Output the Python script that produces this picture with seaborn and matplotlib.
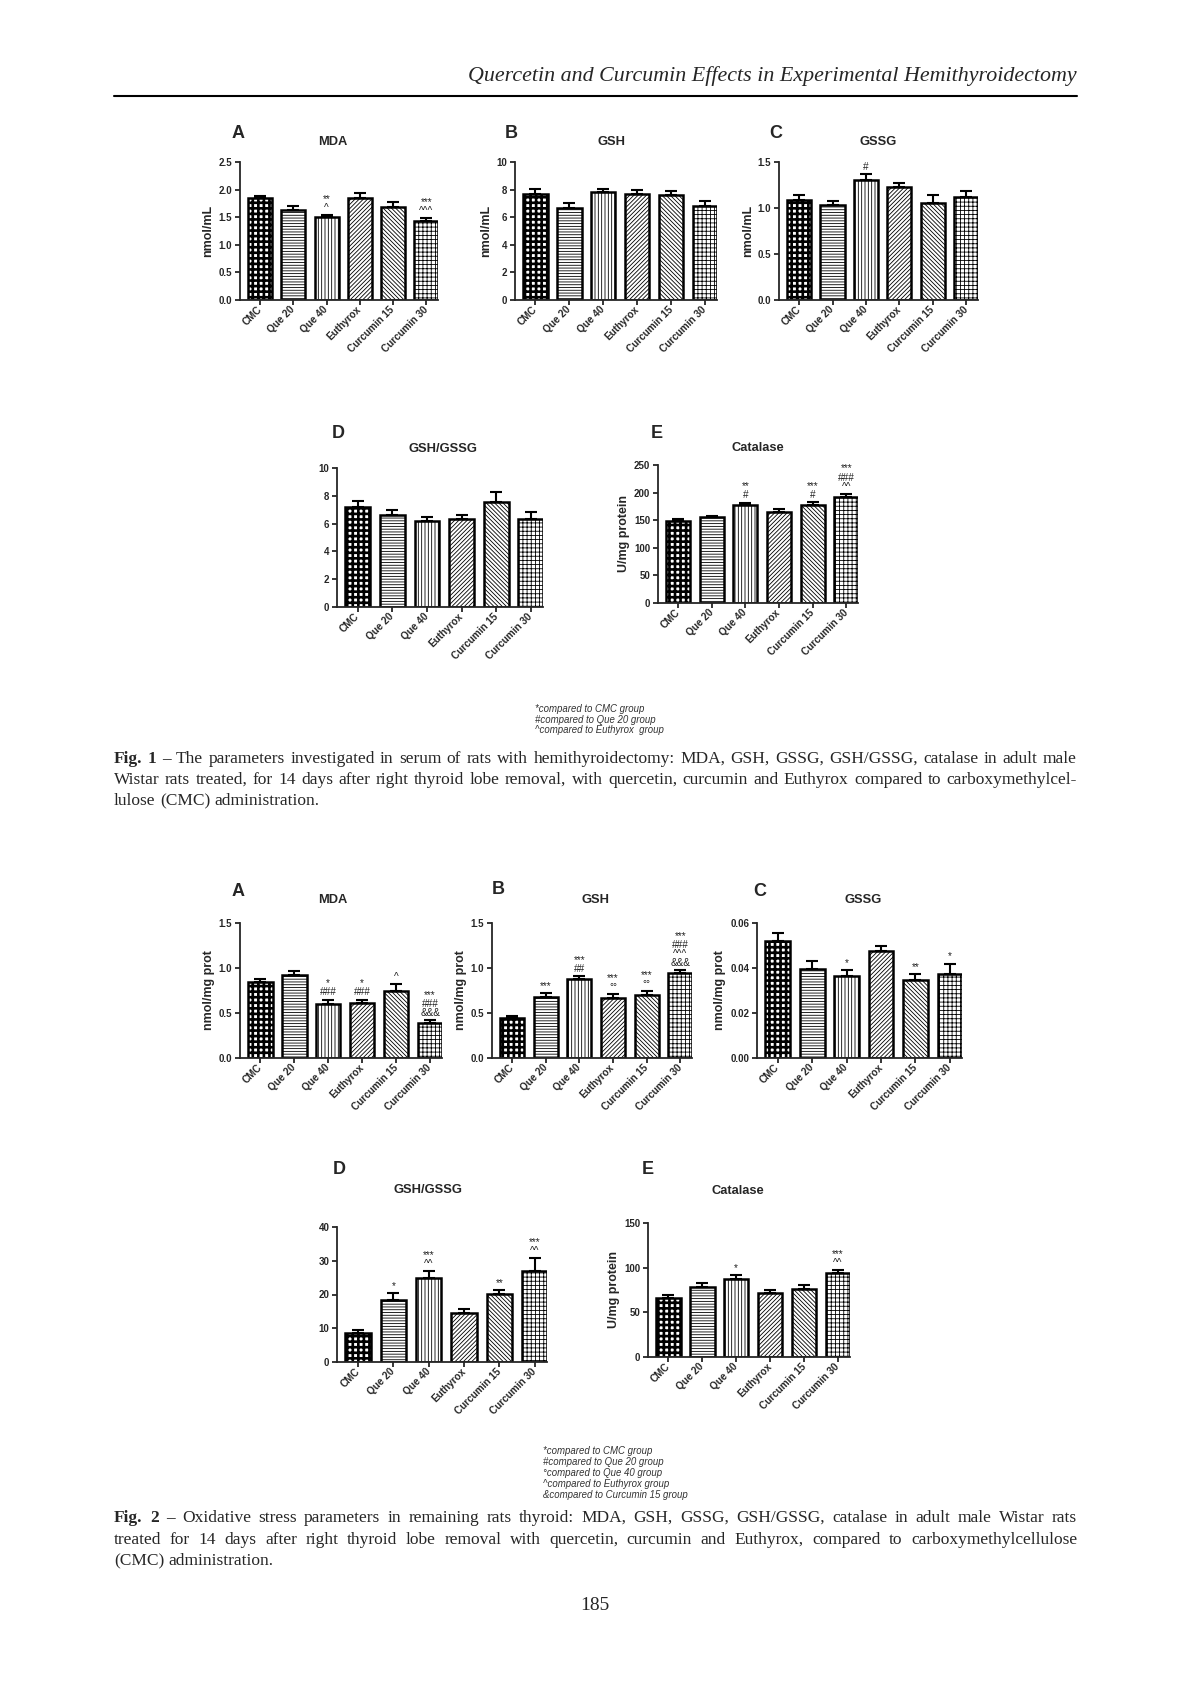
import numpy as np
import pandas as pd
import matplotlib
matplotlib.use('Agg')
import matplotlib.pyplot as plt
import seaborn as sns
from matplotlib.lines import Line2D

# groups (same in every panel)
groups = ['CMC', 'Que 20', 'Que 40', 'Euthyrox', 'Curcumin 15', 'Curcumin 30']

# Fig. 1 - serum
f1_mda = [1.84, 1.63, 1.51, 1.84, 1.68, 1.43]
f1_mda_err = [0.05, 0.07, 0.03, 0.10, 0.10, 0.05]
f1_mda_sig = ['', '', '**\n^', '', '', '***\n^^^']
f1_mda_ticks = ['0.0', '0.5', '1.0', '1.5', '2.0', '2.5']

f1_gsh = [7.7, 6.7, 7.85, 7.7, 7.6, 6.8]
f1_gsh_err = [0.35, 0.3, 0.2, 0.3, 0.3, 0.35]
f1_gsh_sig = ['', '', '', '', '', '']
f1_gsh_ticks = ['0', '2', '4', '6', '8', '10']

f1_gssg = [1.09, 1.03, 1.30, 1.225, 1.05, 1.12]
f1_gssg_err = [0.05, 0.05, 0.07, 0.05, 0.09, 0.06]
f1_gssg_sig = ['', '', '#', '', '', '']
f1_gssg_ticks = ['0.0', '0.5', '1.0', '1.5']

f1_ratio = [7.16, 6.65, 6.19, 6.36, 7.57, 6.34]
f1_ratio_err = [0.45, 0.35, 0.3, 0.25, 0.67, 0.53]
f1_ratio_sig = ['', '', '', '', '', '']
f1_ratio_ticks = ['0', '2', '4', '6', '8', '10']

f1_cat = [149, 155, 178, 165, 178, 192]
f1_cat_err = [3, 3, 4, 5, 5, 6]
f1_cat_sig = ['', '', '**\n#', '', '***\n#', '***\n###\n^^']
f1_cat_ticks = ['0', '50', '100', '150', '200', '250']

# Fig. 2 - thyroid
f2_mda = [0.84, 0.92, 0.60, 0.61, 0.75, 0.39]
f2_mda_err = [0.04, 0.05, 0.05, 0.04, 0.07, 0.03]
f2_mda_sig = ['', '', '*\n###', '*\n###', '^', '***\n###\n&&&']
f2_mda_ticks = ['0.0', '0.5', '1.0', '1.5']

f2_gsh = [0.44, 0.68, 0.88, 0.67, 0.70, 0.94]
f2_gsh_err = [0.03, 0.04, 0.03, 0.04, 0.04, 0.04]
f2_gsh_sig = ['', '***', '***\n##', '***\n°°', '***\n°°', '***\n###\n^^^\n&&&']
f2_gsh_ticks = ['0.0', '0.5', '1.0', '1.5']

f2_gssg = [0.0521, 0.0396, 0.0363, 0.0474, 0.0348, 0.0375]
f2_gssg_err = [0.0034, 0.0033, 0.0027, 0.0022, 0.0024, 0.0045]
f2_gssg_sig = ['', '', '*', '', '**', '*']
f2_gssg_ticks = ['0.00', '0.02', '0.04', '0.06']

f2_ratio = [8.6, 18.3, 24.9, 14.6, 20.2, 26.9]
f2_ratio_err = [0.8, 2.0, 2.0, 1.0, 1.2, 3.9]
f2_ratio_sig = ['', '*', '***\n^^', '', '**', '***\n^^']
f2_ratio_ticks = ['0', '10', '20', '30', '40']

f2_cat = [65.6, 78, 87, 72, 76, 94]
f2_cat_err = [4, 5, 5, 3, 5, 3]
f2_cat_sig = ['', '', '*', '', '', '***\n^^']
f2_cat_ticks = ['0', '50', '100', '150']

f1_notes = ['*compared to CMC group', '#compared to Que 20 group',
            '^compared to Euthyrox  group']
f2_notes = ['*compared to CMC group', '#compared to Que 20 group',
            '°compared to Que 40 group', '^compared to Euthyrox group',
            '&compared to Curcumin 15 group']

hatches = ['+++', '------', '|||||', '////////', '\\\\\\\\\\\\\\\\', '++++']

W, H = 1191, 1684

sns.set_style('ticks')
plt.rcParams['font.family'] = ['Liberation Sans', 'DejaVu Sans']
plt.rcParams['hatch.linewidth'] = 0.6

fig = plt.figure(figsize=(W / 100, H / 100), dpi=100)
fig.patch.set_facecolor('white')


def fx(x):
    return x / W


def fy(y):
    return 1 - y / H


def panel(box, vals, errs, sigs, ticks, letter, title, ylabel, letter_xy, title_xy):
    l, t, r, b = box
    ax = fig.add_axes([fx(l), fy(b), (r - l) / W, (b - t) / H])
    df = pd.DataFrame({'group': groups, 'value': vals})
    sns.barplot(data=df, x='group', y='value', color='white', saturation=1,
                edgecolor='black', linewidth=1.8, width=0.72, errorbar=None, ax=ax)
    for i, p in enumerate(ax.patches):
        p.set_hatch(hatches[i])
        if i == 0 and hasattr(p, 'set_hatch_linewidth'):
            p.set_hatch_linewidth(1.9)
    ax.errorbar(range(len(groups)), vals, yerr=[np.zeros(len(vals)), errs],
                fmt='none', ecolor='black', elinewidth=1.5, capsize=4.5, capthick=1.5)
    for i, s in enumerate(sigs):
        if s:
            ax.annotate(s, xy=(i, vals[i] + errs[i]), xytext=(0, 1.5),
                        textcoords='offset points', ha='center', va='bottom',
                        fontsize=7.2, linespacing=0.88, color='#222222')
    tv = [float(v) for v in ticks]
    ax.set_ylim(0, tv[-1])
    ax.set_yticks(tv)
    ax.set_yticklabels(ticks, fontsize=7, fontweight='bold')
    ax.set_xlim(-0.6, 5.35)
    ax.set_xticks(range(len(groups)))
    ax.set_xticklabels(groups, rotation=45, ha='right', va='center',
                       rotation_mode='anchor', fontsize=7.2, fontweight='bold')
    ax.set_xlabel('')
    ax.set_ylabel(ylabel, fontsize=9, fontweight='bold', labelpad=3)
    ax.tick_params(width=1.3, length=3.5, pad=2)
    for sp in ['left', 'bottom']:
        ax.spines[sp].set_linewidth(1.3)
    sns.despine(ax=ax)
    ax.patch.set_alpha(0)
    fig.text(fx(letter_xy[0]), fy(letter_xy[1]), letter, fontsize=13,
             fontweight='bold', ha='left', va='center')
    fig.text(fx(title_xy[0]), fy(title_xy[1]), title, fontsize=9.3,
             fontweight='bold', ha='center', va='center')
    return ax


# Fig. 1 panels
panel((240, 162, 438, 300), f1_mda, f1_mda_err, f1_mda_sig, f1_mda_ticks,
      'A', 'MDA', 'nmol/mL', (232, 134), (333, 142))
panel((515, 162, 717, 300), f1_gsh, f1_gsh_err, f1_gsh_sig, f1_gsh_ticks,
      'B', 'GSH', 'nmol/mL', (505, 134), (612, 142))
panel((779, 162, 978, 300), f1_gssg, f1_gssg_err, f1_gssg_sig, f1_gssg_ticks,
      'C', 'GSSG', 'nmol/mL', (769, 134), (878, 142))
panel((337, 468, 543, 607), f1_ratio, f1_ratio_err, f1_ratio_sig, f1_ratio_ticks,
      'D', 'GSH/GSSG', '', (332, 433), (443, 449))
panel((658, 465, 858, 603), f1_cat, f1_cat_err, f1_cat_sig, f1_cat_ticks,
      'E', 'Catalase', 'U/mg protein', (651, 433), (758, 448))

# Fig. 2 panels
panel((240, 923, 442, 1058), f2_mda, f2_mda_err, f2_mda_sig, f2_mda_ticks,
      'A', 'MDA', 'nmol/mg prot', (232, 891), (333, 900))
panel((492, 923, 692, 1058), f2_gsh, f2_gsh_err, f2_gsh_sig, f2_gsh_ticks,
      'B', 'GSH', 'nmol/mg prot', (492, 889), (595, 900))
panel((757, 923, 962, 1058), f2_gssg, f2_gssg_err, f2_gssg_sig, f2_gssg_ticks,
      'C', 'GSSG', 'nmol/mg prot', (753, 891), (863, 900))
panel((337, 1227, 547, 1362), f2_ratio, f2_ratio_err, f2_ratio_sig, f2_ratio_ticks,
      'D', 'GSH/GSSG', '', (333, 1169), (428, 1190))
panel((648, 1223, 850, 1357), f2_cat, f2_cat_err, f2_cat_sig, f2_cat_ticks,
      'E', 'Catalase', 'U/mg protein', (642, 1169), (738, 1191))

# notes under each figure
for k, s in enumerate(f1_notes):
    fig.text(fx(535), fy(709 + k * 10.6), s, fontsize=6.9, style='italic',
             color='#333333', ha='left', va='center')
for k, s in enumerate(f2_notes):
    fig.text(fx(543), fy(1451 + k * 11), s, fontsize=6.9, style='italic',
             color='#333333', ha='left', va='center')

# running header and rule
serif = ['Liberation Serif', 'DejaVu Serif']
fig.text(fx(1077), fy(81), 'Quercetin and Curcumin Effects in Experimental Hemithyroidectomy',
         family=serif, style='italic', fontsize=15.8, ha='right', va='baseline')
fig.add_artist(Line2D([fx(114), fx(1077)], [fy(96), fy(96)], color='black', lw=1.5))

renderer = fig.canvas.get_renderer()
CAP = 12.5


def caption_line(y, words, justify, x0=114, x1=1077, n_bold=0):
    texts = []
    for k, w in enumerate(words):
        t = fig.text(0, fy(y), w, family=serif, fontsize=CAP, ha='left', va='baseline',
                     fontweight='bold' if k < n_bold else 'normal')
        texts.append(t)
    widths = [t.get_window_extent(renderer).width for t in texts]
    if justify and len(words) > 1:
        gap = (x1 - x0 - sum(widths)) / (len(words) - 1)
    else:
        sp = fig.text(0, 0, 'a a', family=serif, fontsize=CAP)
        sp2 = fig.text(0, 0, 'aa', family=serif, fontsize=CAP)
        gap = sp.get_window_extent(renderer).width - sp2.get_window_extent(renderer).width
        sp.remove()
        sp2.remove()
    x = x0
    for t, w in zip(texts, widths):
        t.set_x(fx(x))
        x += w + gap


cap1 = ['Fig. 1 – The parameters investigated in serum of rats with hemithyroidectomy: MDA, GSH, GSSG, GSH/GSSG, catalase in adult male',
        'Wistar rats treated, for 14 days after right thyroid lobe removal, with quercetin, curcumin and Euthyrox compared to carboxymethylcel-',
        'lulose (CMC) administration.']
cap2 = ['Fig. 2 – Oxidative stress parameters in remaining rats thyroid: MDA, GSH, GSSG, GSH/GSSG, catalase in adult male Wistar rats',
        'treated for 14 days after right thyroid lobe removal with quercetin, curcumin and Euthyrox, compared to carboxymethylcellulose',
        '(CMC) administration.']

for k, (line, y) in enumerate(zip(cap1, [763, 784, 805])):
    caption_line(y, line.split(' '), k < 2, n_bold=3 if k == 0 else 0)
for k, (line, y) in enumerate(zip(cap2, [1522, 1544, 1565])):
    caption_line(y, line.split(' '), k < 2, n_bold=3 if k == 0 else 0)

fig.text(fx(595), fy(1610), '185', family=serif, fontsize=14, ha='center', va='baseline')

fig.savefig('out.png', dpi=100, facecolor='white')
